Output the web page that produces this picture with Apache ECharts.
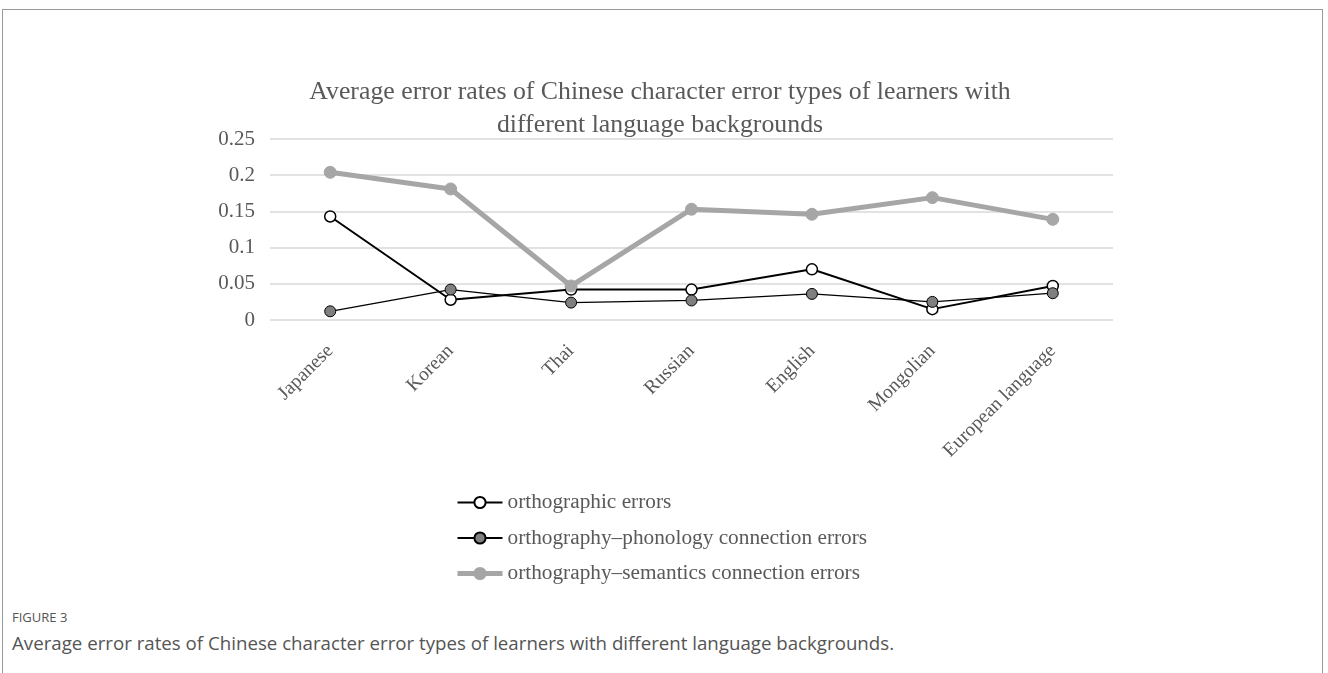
<!DOCTYPE html>
<html>
<head>
<meta charset="utf-8">
<script src="https://cdn.jsdelivr.net/npm/echarts@6/dist/echarts.min.js"></script>
<style>
  html, body { margin: 0; padding: 0; background: #fff; }
  .frame {
    position: absolute; left: 2px; top: 9px; width: 1319px; height: 680px;
    border-top: 1px solid #9a9a9a; border-left: 1px solid #9a9a9a; border-right: 1px solid #9a9a9a;
  }
  #main { position: absolute; left: 0; top: 0; width: 1328px; height: 600px; }
  .fig { position: absolute; left: 12px; top: 608px; font-family: "Open Sans", sans-serif; font-size: 13px; color: #555; }
  .cap { position: absolute; left: 12px; top: 630px; font-family: "Open Sans", sans-serif; font-size: 18.7px; color: #555; }
</style>
</head>
<body>
<div class="frame"></div>
<div id="main"></div>
<div class="fig">FIGURE 3</div>
<div class="cap">Average error rates of Chinese character error types of learners with different language backgrounds.</div>
<script>
var categories = ['Japanese', 'Korean', 'Thai', 'Russian', 'English', 'Mongolian', 'European language'];
var orthographic = [0.143, 0.028, 0.042, 0.042, 0.070, 0.015, 0.047];
var phonology = [0.012, 0.042, 0.024, 0.027, 0.036, 0.025, 0.037];
var semantics = [0.204, 0.181, 0.047, 0.153, 0.146, 0.169, 0.139];

var serif = '"Liberation Serif", "DejaVu Serif", serif';
var myChart = echarts.init(document.getElementById('main'));

var option = {
  animation: false,
  title: {
    text: 'Average error rates of Chinese character error types of learners with\ndifferent language backgrounds',
    left: 655,
    top: 71,
    textAlign: 'center',
    textStyle: { fontFamily: serif, fontSize: 25.8, fontWeight: 'normal', color: '#595959', lineHeight: 33 }
  },
  legend: {
    orient: 'vertical',
    left: 450,
    top: 486,
    itemGap: 12.5,
    itemWidth: 45,
    itemHeight: 14,
    textStyle: { fontFamily: serif, fontSize: 21.3, color: '#595959', lineHeight: 23 },
    data: [
      { name: 'orthographic errors' },
      { name: 'orthography\u2013phonology connection errors' },
      { name: 'orthography\u2013semantics connection errors', lineStyle: { width: 5 } }
    ]
  },
  grid: { left: 270, right: 215, top: 139, height: 181 },
  xAxis: {
    type: 'category',
    data: categories,
    boundaryGap: true,
    axisLine: { show: false },
    axisTick: { show: false },
    axisLabel: { rotate: 45, margin: 28, fontFamily: serif, fontSize: 19.5, color: '#595959' }
  },
  yAxis: {
    type: 'value',
    min: 0,
    max: 0.25,
    interval: 0.05,
    axisLine: { show: false },
    axisTick: { show: false },
    axisLabel: {
      margin: 15, fontFamily: serif, fontSize: 21, color: '#595959',
      formatter: function (v) { return String(Math.round(v * 100) / 100); }
    },
    splitLine: { lineStyle: { color: '#d9d9d9', width: 1.5 } }
  },
  series: [{
    name: 'orthographic errors',
    type: 'line',
    data: orthographic,
    symbol: 'circle',
    symbolSize: 11,
    lineStyle: { color: '#000', width: 2 },
    itemStyle: { color: '#fff', borderColor: '#000', borderWidth: 1.5 }
  }, {
    name: 'orthography\u2013phonology connection errors',
    type: 'line',
    data: phonology,
    symbol: 'circle',
    symbolSize: 11,
    lineStyle: { color: '#000', width: 1.3 },
    itemStyle: { color: '#7f7f7f', borderColor: '#000', borderWidth: 1 }
  }, {
    name: 'orthography\u2013semantics connection errors',
    type: 'line',
    data: semantics,
    symbol: 'circle',
    symbolSize: 12,
    lineStyle: { color: '#a6a6a6', width: 5 },
    itemStyle: { color: '#a6a6a6', borderColor: '#a6a6a6', borderWidth: 1 }
  }]
};

myChart.setOption(option);
</script>
</body>
</html>
